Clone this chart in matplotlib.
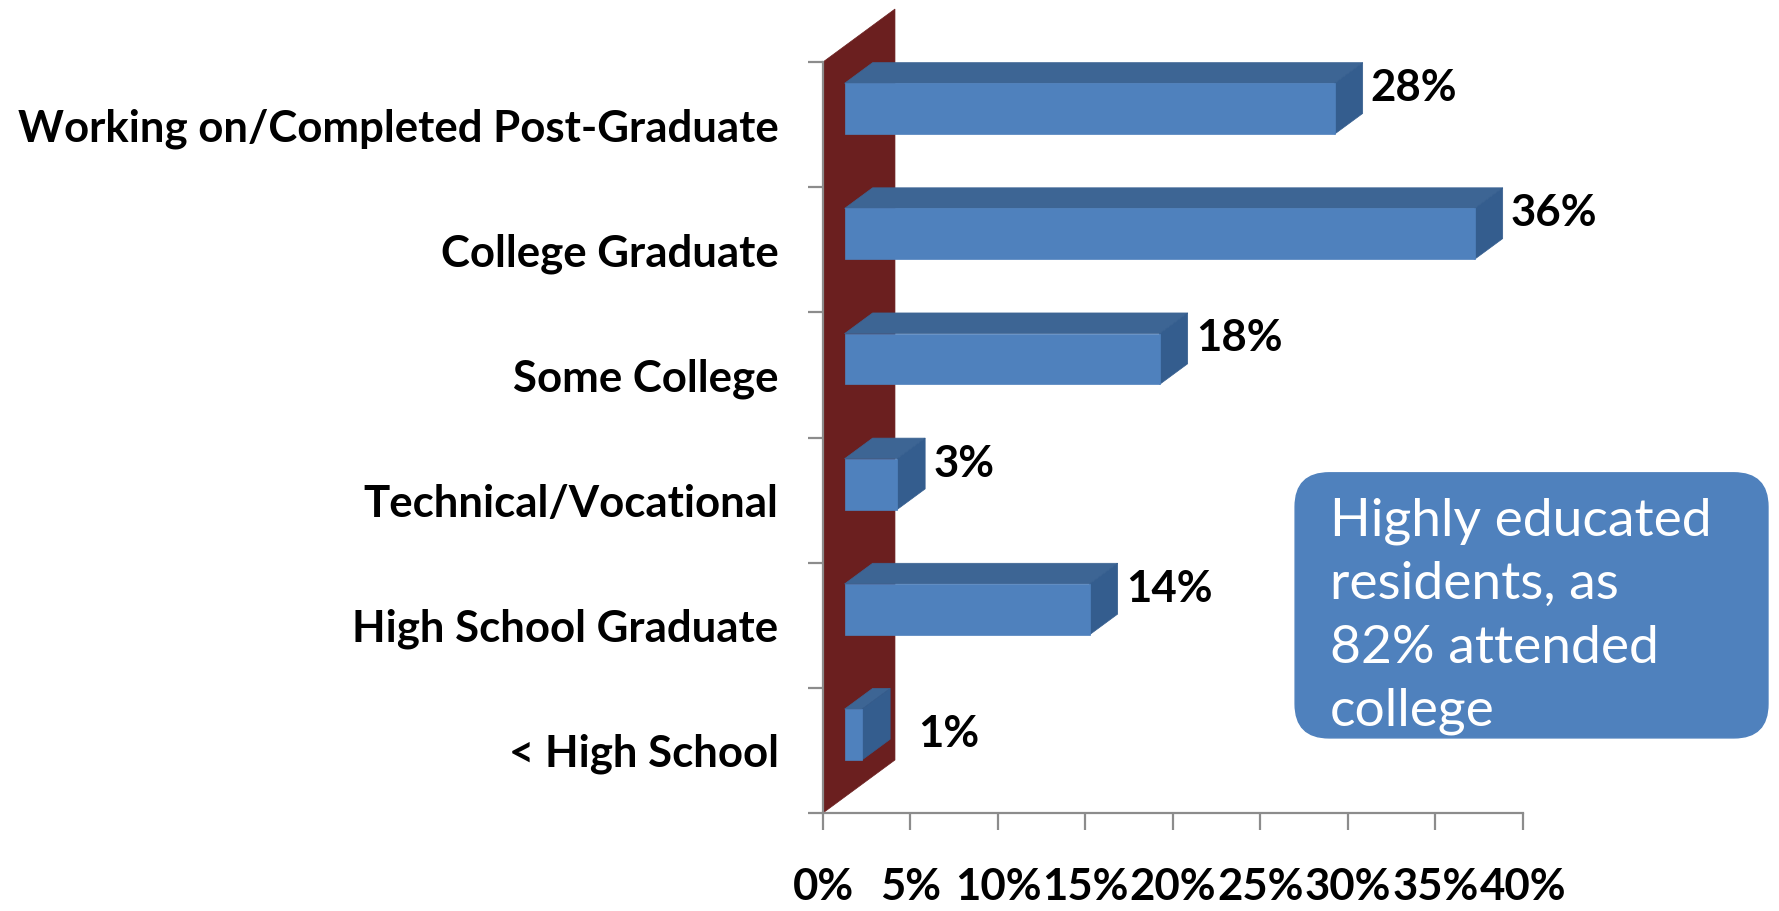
import matplotlib
matplotlib.use("Agg")
import matplotlib.pyplot as plt
from matplotlib.patches import Polygon, FancyBboxPatch
from matplotlib.transforms import IdentityTransform
from matplotlib.ticker import FixedLocator, PercentFormatter
import numpy as np

# --- data ---
categories = ['Working on/Completed Post-Graduate', 'College Graduate', 'Some College',
              'Technical/Vocational', 'High School Graduate', '< High School']
values = [28, 36, 18, 3, 14, 1]
x_ticks = [0, 5, 10, 15, 20, 25, 30, 35, 40]
note_lines = ['Highly educated', 'residents, as', '82% attended', 'college']

# --- style ---
FONT = 'Lato'
FRONT = '#4F81BD'
TOP = '#3D6594'
SIDE = '#345D8E'
WALL = '#6B1F1F'
AXIS = '#8C8C8C'
DEPTH = np.array([72.0, 53.0])      # wall depth in pixels (dx, dy)
D_FRONT, D_BACK = 0.30, 0.69        # bar depth range as fraction of wall depth
HALF = 0.203                        # half bar height (category units)
LABEL_SIZE = 31.5

plt.rcParams['font.family'] = FONT

fig = plt.figure(figsize=(17.79, 9.11), dpi=100)
ax = fig.add_axes([0.4626, 0.1076, 0.3935, 0.8243])
ax.set_xlim(0, 40)
ax.set_ylim(len(categories) - 0.5, -0.5)

for side in ['top', 'right']:
    ax.spines[side].set_visible(False)
for side in ['left', 'bottom']:
    ax.spines[side].set_color(AXIS)
    ax.spines[side].set_linewidth(1.6)

# x axis
ax.xaxis.set_major_locator(FixedLocator(x_ticks))
ax.xaxis.set_major_formatter(PercentFormatter(decimals=0))
ax.tick_params(axis='x', direction='out', length=12, width=1.6, color=AXIS,
               pad=27, labelsize=LABEL_SIZE)
for lbl in ax.get_xticklabels():
    lbl.set_fontweight('bold')

# y axis: ticks at category boundaries, labels at centers
bounds = np.arange(len(categories) + 1) - 0.5
ax.yaxis.set_major_locator(FixedLocator(bounds))
ax.yaxis.set_minor_locator(FixedLocator(np.arange(len(categories))))
ax.tick_params(axis='y', which='major', direction='out', length=11, width=1.6,
               color=AXIS, labelleft=False)
ax.tick_params(axis='y', which='minor', length=0, pad=32, labelsize=LABEL_SIZE)
ax.set_yticklabels(categories, minor=True, fontweight='bold')

fig.canvas.draw()


def proj(x, y, d):
    p = ax.transData.transform((x, y))
    return p + d * DEPTH


def face(pts, color, z):
    ax.add_patch(Polygon(pts, closed=True, facecolor=color, edgecolor=color,
                         linewidth=0.5, transform=IdentityTransform(),
                         clip_on=False, zorder=z))


# back wall
y_top, y_bot = bounds[0], bounds[-1]
face([proj(0, y_top, 0), proj(0, y_bot, 0), proj(0, y_bot, 1), proj(0, y_top, 1)],
     WALL, 1)

# 3D bars
for i, v in enumerate(values):
    t, b = i - HALF, i + HALF
    face([proj(0, t, D_FRONT), proj(v, t, D_FRONT), proj(v, t, D_BACK), proj(0, t, D_BACK)],
         TOP, 3)
    face([proj(v, t, D_FRONT), proj(v, b, D_FRONT), proj(v, b, D_BACK), proj(v, t, D_BACK)],
         SIDE, 3)
    face([proj(0, t, D_FRONT), proj(v, t, D_FRONT), proj(v, b, D_FRONT), proj(0, b, D_FRONT)],
         FRONT, 4)

    # value label just right of the bar end; pushed clear of the wall if needed
    end_x, end_y = proj(v, i, D_BACK)
    wall_x = proj(0, i, 1)[0]
    if end_x < wall_x:
        lx, ly = wall_x + 23, proj(v, i, D_FRONT)[1]
    else:
        lx, ly = end_x + 8, end_y
    ax.annotate(f'{v}%', xy=(lx, ly), xycoords='figure pixels', ha='left', va='center',
                fontsize=LABEL_SIZE, fontweight='bold', color='black',
                annotation_clip=False)

# callout box
bx0, by0 = fig.transFigure.transform((0.728, 0.190))
bx1, by1 = fig.transFigure.transform((0.9938, 0.481))
box = FancyBboxPatch((bx0, by0), bx1 - bx0, by1 - by0,
                     boxstyle='round,pad=0,rounding_size=34', facecolor=FRONT,
                     edgecolor=FRONT, transform=IdentityTransform(), zorder=5)
fig.patches.append(box)
fig.text(0.7476, 0.454, '\n'.join(note_lines), ha='left', va='top', color='white',
         fontsize=38.4, linespacing=1.43, zorder=6)

fig.savefig('out.png', dpi=100)
